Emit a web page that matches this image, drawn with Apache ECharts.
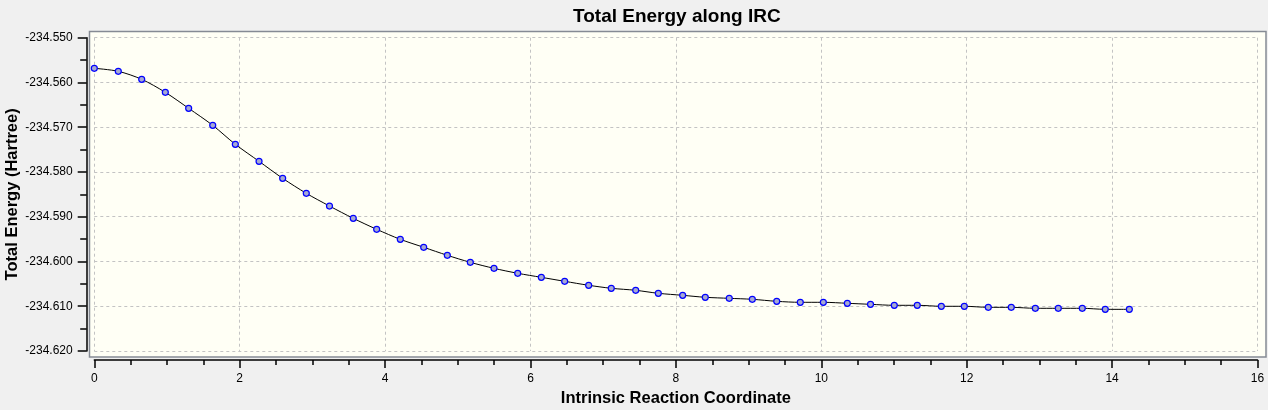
<!DOCTYPE html>
<html>
<head>
<meta charset="utf-8">
<script src="https://cdn.jsdelivr.net/npm/echarts@6/dist/echarts.min.js"></script>
<style>
  html, body { margin: 0; padding: 0; background: #f0f0f0; }
  #chart { width: 1268px; height: 410px; }
</style>
</head>
<body>
<div id="chart"></div>
<script>
// ---- Data ----
const chartTitle = 'Total Energy along IRC';
const xAxisTitle = 'Intrinsic Reaction Coordinate';
const yAxisTitle = 'Total Energy (Hartree)';

const reactionCoordinate = [
  0.000, 0.330, 0.652, 0.977, 1.298, 1.629, 1.940, 2.266, 2.591, 2.916,
  3.235, 3.562, 3.884, 4.209, 4.531, 4.856, 5.172, 5.498, 5.824, 6.149,
  6.470, 6.800, 7.111, 7.447, 7.758, 8.093, 8.404, 8.734, 9.051, 9.387,
  9.711, 10.028, 10.358, 10.677, 11.004, 11.320, 11.651, 11.967, 12.297, 12.613,
  12.944, 13.260, 13.590, 13.906, 14.237
];

const totalEnergy = [
  -234.55684, -234.55751, -234.55930, -234.56221, -234.56578, -234.56958, -234.57382, -234.57762, -234.58142, -234.58477,
  -234.58761, -234.59036, -234.59281, -234.59505, -234.59683, -234.59862, -234.60019, -234.60153, -234.60264, -234.60354,
  -234.60443, -234.60532, -234.60599, -234.60644, -234.60711, -234.60756, -234.60800, -234.60823, -234.60845, -234.60890,
  -234.60912, -234.60912, -234.60934, -234.60957, -234.60979, -234.60979, -234.61001, -234.61001, -234.61024, -234.61024,
  -234.61046, -234.61046, -234.61046, -234.61069, -234.61069
];

const xAxisRange = [0, 16];
const xAxisStep = 2;
const yAxisRange = [-234.620, -234.550];
const yAxisStep = 0.010;
const yDecimals = 3;

// ---- Chart ----
const seriesData = reactionCoordinate.map((x, i) => [x, totalEnergy[i]]);

const chart = echarts.init(document.getElementById('chart'), null, { renderer: 'canvas' });

const gridLeft = 94.3, gridRight = 10.5, gridTop = 37.7, gridBottom = 59;
const fontFamily = '"Liberation Sans", Arial, sans-serif';

chart.setOption({
  backgroundColor: '#f0f0f0',
  animation: false,
  title: {
    text: chartTitle,
    left: 568,
    top: 2,
    textStyle: { fontFamily, fontSize: 19, fontWeight: 'bold', color: '#000' }
  },
  graphic: {
    elements: [{
      type: 'rect',
      z: -10,
      silent: true,
      shape: { x: 89.5, y: 31.5, width: 1176.5, height: 325.5 },
      style: { fill: '#fffff5', stroke: '#858a94', lineWidth: 1.5 }
    }]
  },
  grid: {
    left: gridLeft, right: gridRight, top: gridTop, bottom: gridBottom,
    containLabel: false,
    outerBoundsMode: 'none'
  },
  xAxis: {
    type: 'value',
    min: xAxisRange[0],
    max: xAxisRange[1],
    interval: xAxisStep,
    offset: 9,
    name: xAxisTitle,
    nameLocation: 'middle',
    nameGap: 30,
    nameMoveOverlap: false,
    nameTextStyle: { fontFamily, fontSize: 16.5, fontWeight: 'bold', color: '#000' },
    axisLine: { show: true, onZero: false, lineStyle: { color: '#000', width: 1.5 } },
    axisTick: { show: true, length: 8, lineStyle: { color: '#000', width: 1.5 } },
    minorTick: { show: true, splitNumber: 4, length: 5, lineStyle: { color: '#000', width: 1.5 } },
    axisLabel: { fontFamily, fontSize: 12, color: '#000', margin: 13 },
    splitLine: { show: true, lineStyle: { color: '#c3c3c3', type: [3, 3], width: 1 } }
  },
  yAxis: {
    type: 'value',
    min: yAxisRange[0],
    max: yAxisRange[1],
    interval: yAxisStep,
    offset: 7.6,
    name: yAxisTitle,
    nameLocation: 'middle',
    nameGap: 66,
    nameMoveOverlap: false,
    nameTextStyle: { fontFamily, fontSize: 16.5, fontWeight: 'bold', color: '#000' },
    axisLine: { show: true, onZero: false, lineStyle: { color: '#000', width: 1.5 } },
    axisTick: { show: true, length: 9, lineStyle: { color: '#000', width: 1.5 } },
    minorTick: { show: true, splitNumber: 2, length: 6.5, lineStyle: { color: '#000', width: 1.5 } },
    axisLabel: {
      fontFamily, fontSize: 12, color: '#000', margin: 14,
      formatter: v => v.toFixed(yDecimals)
    },
    splitLine: { show: true, lineStyle: { color: '#c3c3c3', type: [3, 3], width: 1 } }
  },
  series: [{
    type: 'line',
    data: seriesData,
    smooth: 0.3,
    showSymbol: true,
    symbol: 'circle',
    symbolSize: 6,
    lineStyle: { color: '#000', width: 1 },
    itemStyle: { color: '#a6a9d2', borderColor: '#0000ff', borderWidth: 1.2 },
    clip: false
  }]
});
</script>
</body>
</html>
